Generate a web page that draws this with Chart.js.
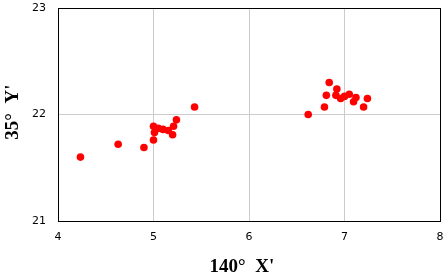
<!DOCTYPE html>
<html>
<head>
<meta charset="utf-8">
<script src="https://cdn.jsdelivr.net/npm/chart.js@4/dist/chart.umd.min.js"></script>
<style>
  body { margin: 0; background: #fff; }
</style>
</head>
<body>
<canvas id="c" width="448" height="280"></canvas>
<script>
// Points, two clusters
const xs = [4.235, 4.63, 4.90, 5.00, 5.05, 5.10, 5.155, 5.01, 5.00, 5.20, 5.21, 5.24, 5.43,
            6.62, 6.79, 6.81, 6.84, 6.92, 6.91, 6.96, 7.00, 7.05, 7.12, 7.095, 7.20, 7.24];
const ys = [21.60, 21.72, 21.69, 21.89, 21.87, 21.86, 21.85, 21.83, 21.76, 21.81, 21.89, 21.95, 22.07,
            22.00, 22.07, 22.18, 22.30, 22.24, 22.18, 22.15, 22.17, 22.19, 22.16, 22.12, 22.07, 22.15];
const xTicks = [4, 5, 6, 7, 8];
const yTicks = [21, 22, 23];
const xTitle = "140°  X'\u00a0\u00a0\u00a0";
const yTitle = "\u00a035°  Y'";

const points = xs.map((x, i) => ({ x, y: ys[i] }));

// black frame round the plot area
const frame = {
    id: "frame",
    beforeDatasetsDraw(chart) {
        const { ctx, chartArea: a } = chart;
        ctx.save();
        ctx.strokeStyle = "#000";
        ctx.lineWidth = 1;
        ctx.strokeRect(Math.round(a.left) + 0.5, Math.round(a.top) + 0.5,
            Math.round(a.right - a.left), Math.round(a.bottom - a.top));
        ctx.restore();
    }
};

// fixed axis sizes, no extra room for end labels
function fixSize(prop, size) {
    return s => {
        s[prop] = size;
        s.paddingTop = s.paddingBottom = s.paddingLeft = s.paddingRight = 0;
    };
}

const tickFont = { family: "DejaVu Sans", size: 11 };
const titleFont = { family: "Liberation Serif", size: 19, weight: "bold", lineHeight: 1 };

new Chart(document.getElementById("c"), {
    type: "scatter",
    data: {
        datasets: [{
            data: points,
            backgroundColor: "#ff0000",
            borderWidth: 0,
            pointRadius: 3.8
        }]
    },
    options: {
        responsive: false,
        animation: false,
        layout: { padding: { top: 8, right: 8, left: 0, bottom: 0 } },
        plugins: { legend: { display: false }, tooltip: { enabled: false } },
        scales: {
            x: {
                min: xTicks[0],
                max: xTicks[xTicks.length - 1],
                afterBuildTicks: s => { s.ticks = xTicks.map(v => ({ value: v })); },
                afterFit: fixSize("height", 59),
                grid: { color: "#cccccc", drawTicks: false },
                border: { display: false },
                ticks: { color: "#000", font: tickFont, padding: 10, maxRotation: 0 },
                title: { display: true, text: xTitle, color: "#000", font: titleFont, padding: { top: 0, bottom: 3 } }
            },
            y: {
                min: yTicks[0],
                max: yTicks[yTicks.length - 1],
                afterBuildTicks: s => { s.ticks = yTicks.map(v => ({ value: v })); },
                afterFit: fixSize("width", 58),
                grid: { color: "#cccccc", drawTicks: false },
                border: { display: false },
                ticks: { color: "#000", font: tickFont, padding: 12 },
                title: { display: true, text: yTitle, color: "#000", font: titleFont, padding: { top: 4, bottom: 0 } }
            }
        }
    },
    plugins: [frame]
});
</script>
</body>
</html>
